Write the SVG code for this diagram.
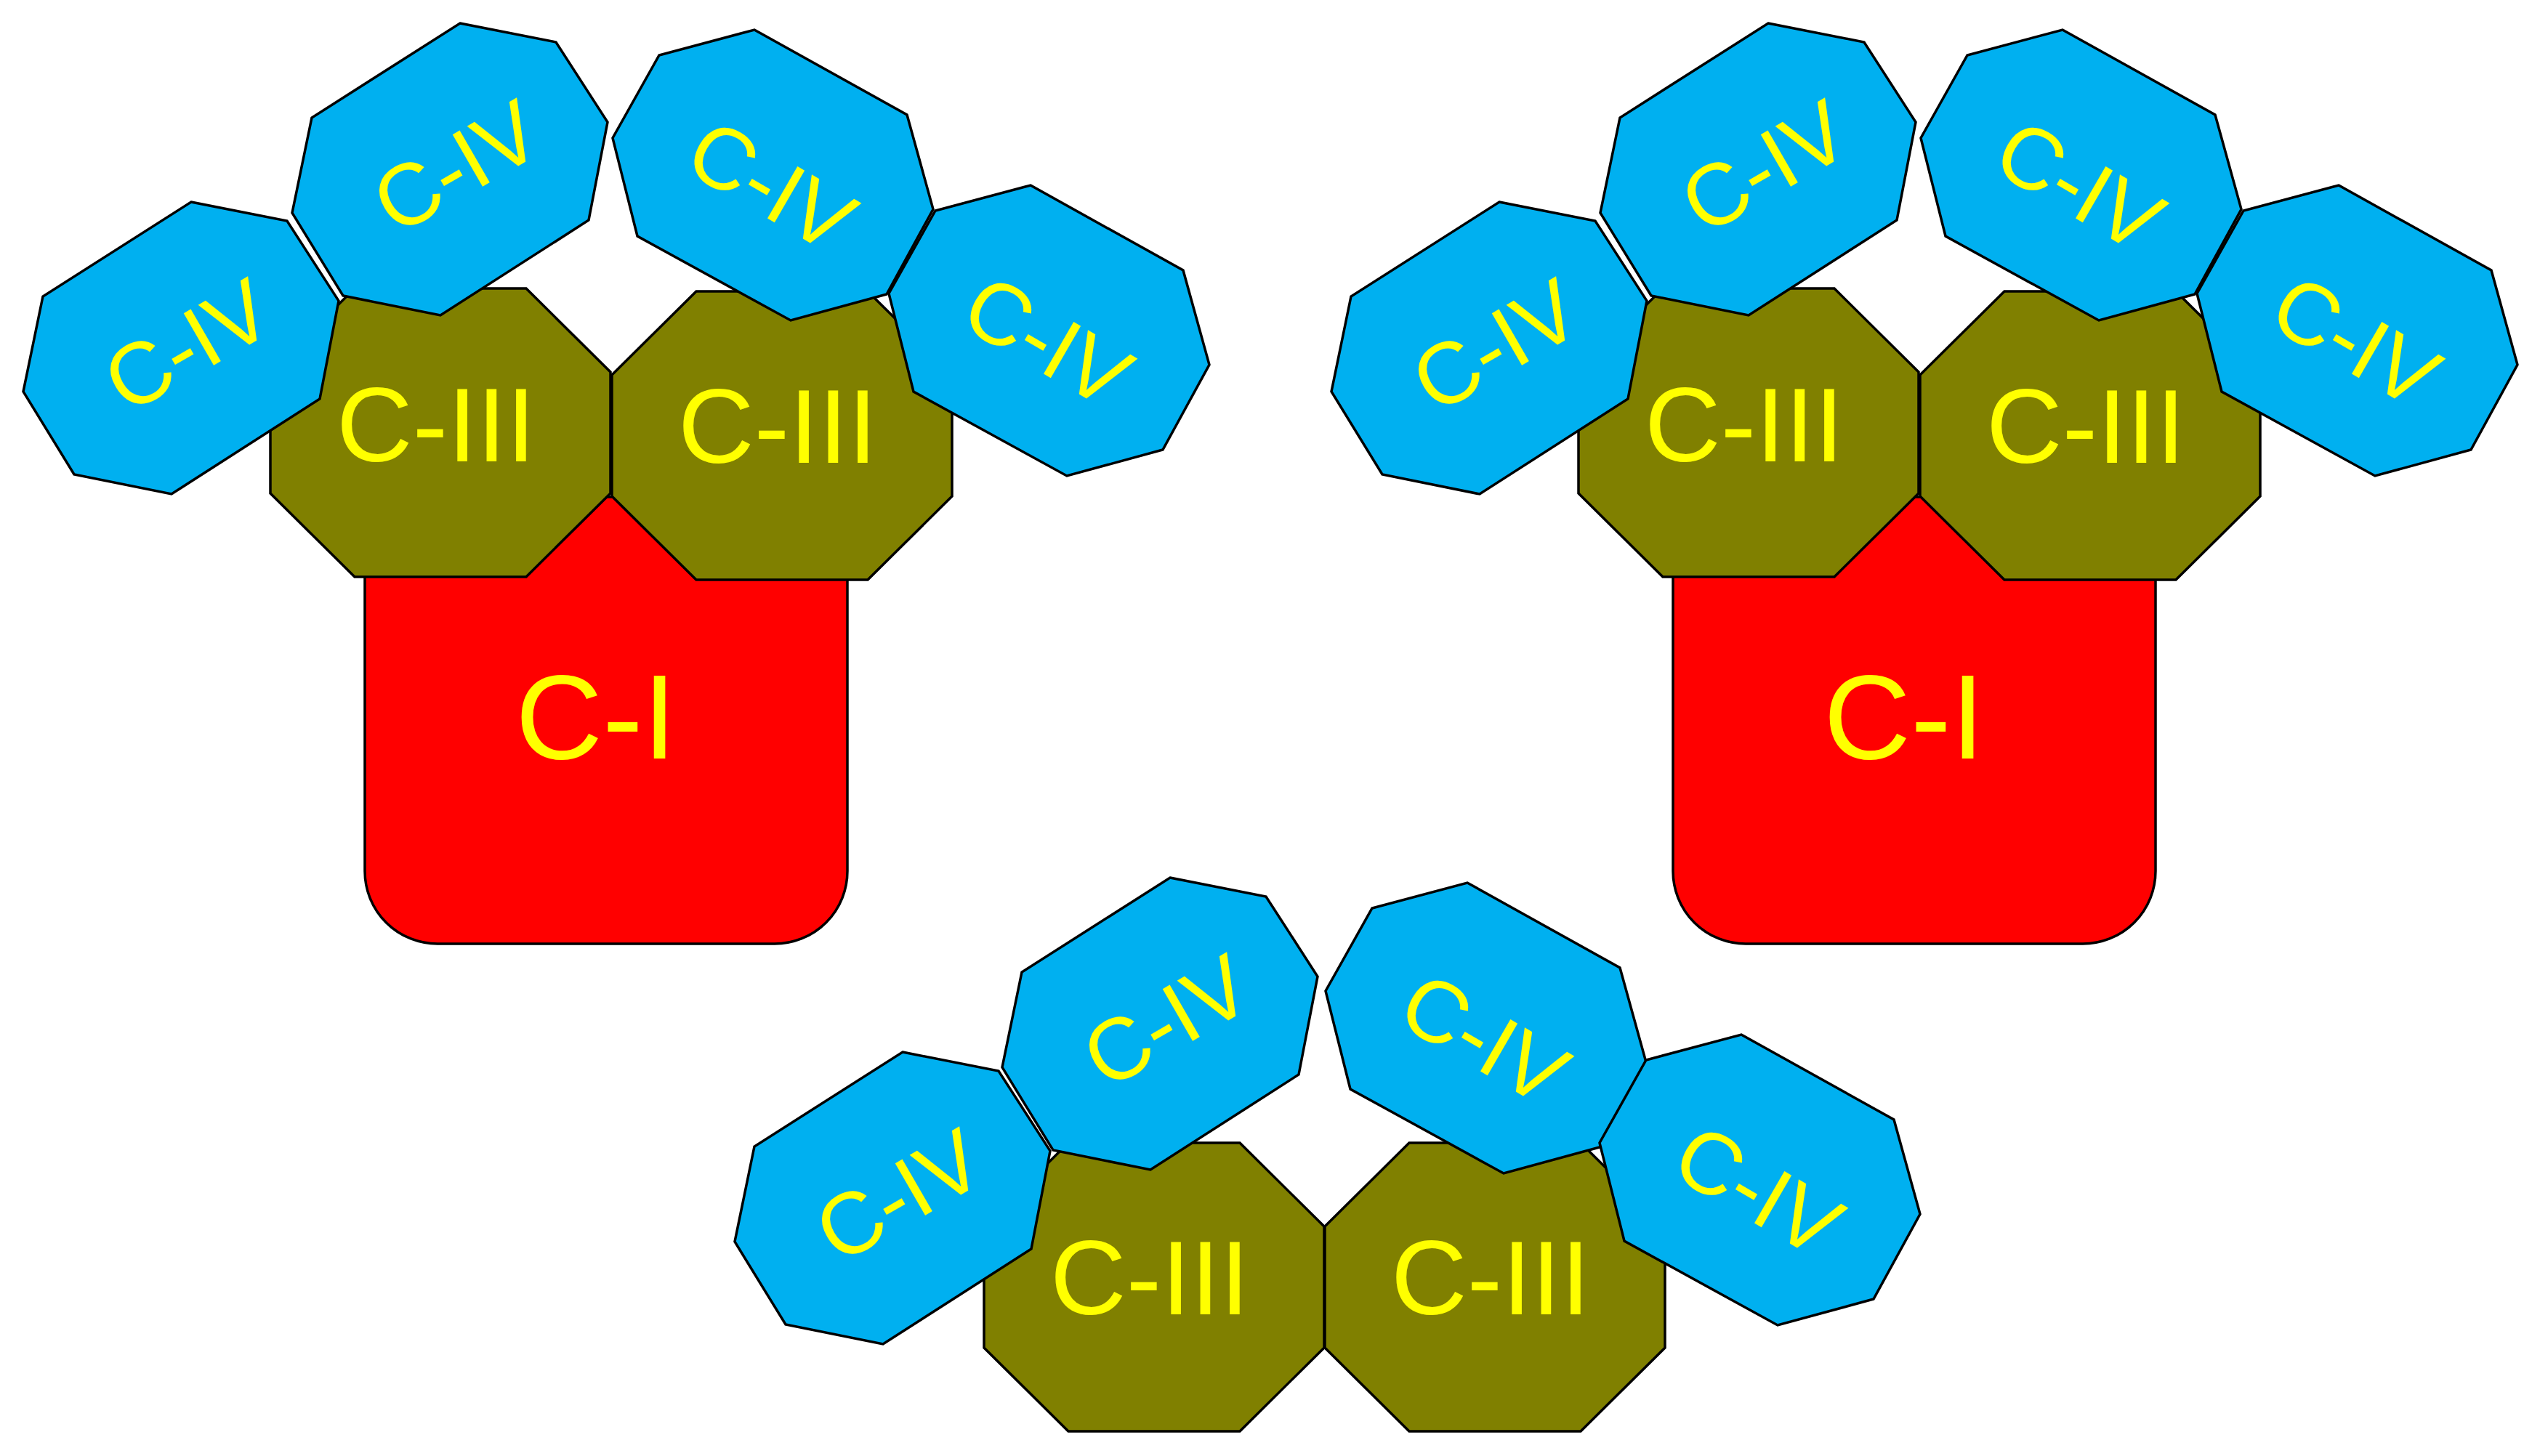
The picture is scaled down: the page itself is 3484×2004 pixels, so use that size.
<svg xmlns="http://www.w3.org/2000/svg" xmlns:xlink="http://www.w3.org/1999/xlink" width="3484" height="2004" viewBox="0 0 3484 2004">
<style>
.c1{fill:#FF0000;stroke:#000;stroke-width:3.5}
.c3{fill:#808000;stroke:#000;stroke-width:3.5;stroke-linejoin:miter}
.c4{fill:#00B0F0;stroke:#000;stroke-width:3.5;stroke-linejoin:miter}
.t{font-family:"Liberation Sans",Arial,sans-serif;fill:#FFFF00;text-anchor:middle}
.t1{font-size:166px}
.t3{font-size:145px}
.t4{font-size:120px}
</style>
<defs>
<polygon id="oct3" points="116,0 352,0 468,115 468,282 352,397 116,397 0,282 0,115"/>
<polygon id="oct4L" points="14,-200 146,-174 217,-64 191,71 -13,202 -147,175 -217,61 -190,-70"/>
<polygon id="oct4R" points="-25,-200 185,-83 221,47 157,164 25,200 -186,84 -220,-51 -156,-165"/>
<path id="rect1" d="M502,684 H1166 V1199 A100,100 0 0 1 1066,1299 H602 A100,100 0 0 1 502,1199 Z"/>
</defs>
<rect width="3484" height="2004" fill="#fff"/>

<!-- Top-left group -->
<g id="group-top-left">
<g id="tl-CI"><use href="#rect1" class="c1"/><text class="t t1" x="820" y="1044">C-I</text></g>
<g id="tl-CIII-1" transform="translate(372,397)"><use href="#oct3" class="c3"/><text class="t t3" x="228" y="238">C-III</text></g>
<g id="tl-CIII-2" transform="translate(842,401)"><use href="#oct3" class="c3"/><text class="t t3" x="228" y="236">C-III</text></g>
<g id="tl-CIV-1" transform="translate(249,478)"><use href="#oct4L" class="c4"/><text class="t t4" transform="rotate(-30)" x="9" y="44">C-IV</text></g>
<g id="tl-CIV-2" transform="translate(619,232)"><use href="#oct4L" class="c4"/><text class="t t4" transform="rotate(-30)" x="9" y="44">C-IV</text></g>
<g id="tl-CIV-3" transform="translate(1063,241)"><use href="#oct4R" class="c4"/><text class="t t4" transform="rotate(30)" x="6" y="55">C-IV</text></g>
<g id="tl-CIV-4" transform="translate(1443,455)"><use href="#oct4R" class="c4"/><text class="t t4" transform="rotate(30)" x="6" y="55">C-IV</text></g>
</g>

<!-- Top-right group -->
<g id="group-top-right" transform="translate(1800,0)">
<g id="tr-CI"><use href="#rect1" class="c1"/><text class="t t1" x="820" y="1044">C-I</text></g>
<g id="tr-CIII-1" transform="translate(372,397)"><use href="#oct3" class="c3"/><text class="t t3" x="228" y="238">C-III</text></g>
<g id="tr-CIII-2" transform="translate(842,401)"><use href="#oct3" class="c3"/><text class="t t3" x="228" y="236">C-III</text></g>
<g id="tr-CIV-1" transform="translate(249,478)"><use href="#oct4L" class="c4"/><text class="t t4" transform="rotate(-30)" x="9" y="44">C-IV</text></g>
<g id="tr-CIV-2" transform="translate(619,232)"><use href="#oct4L" class="c4"/><text class="t t4" transform="rotate(-30)" x="9" y="44">C-IV</text></g>
<g id="tr-CIV-3" transform="translate(1063,241)"><use href="#oct4R" class="c4"/><text class="t t4" transform="rotate(30)" x="6" y="55">C-IV</text></g>
<g id="tr-CIV-4" transform="translate(1443,455)"><use href="#oct4R" class="c4"/><text class="t t4" transform="rotate(30)" x="6" y="55">C-IV</text></g>
</g>

<!-- Bottom group -->
<g id="group-bottom">
<g id="b-CIII-1" transform="translate(1354,1573)"><use href="#oct3" class="c3"/><text class="t t3" x="228" y="236">C-III</text></g>
<g id="b-CIII-2" transform="translate(1823,1573)"><use href="#oct3" class="c3"/><text class="t t3" x="228" y="236">C-III</text></g>
<g id="b-CIV-1" transform="translate(1228,1648)"><use href="#oct4L" class="c4"/><text class="t t4" transform="rotate(-30)" x="9" y="44">C-IV</text></g>
<g id="b-CIV-2" transform="translate(1596,1408)"><use href="#oct4L" class="c4"/><text class="t t4" transform="rotate(-30)" x="9" y="44">C-IV</text></g>
<g id="b-CIV-3" transform="translate(2044,1415)"><use href="#oct4R" class="c4"/><text class="t t4" transform="rotate(30)" x="6" y="55">C-IV</text></g>
<g id="b-CIV-4" transform="translate(2421,1624)"><use href="#oct4R" class="c4"/><text class="t t4" transform="rotate(30)" x="6" y="55">C-IV</text></g>
</g>

<g id="connectors"/>
</svg>
